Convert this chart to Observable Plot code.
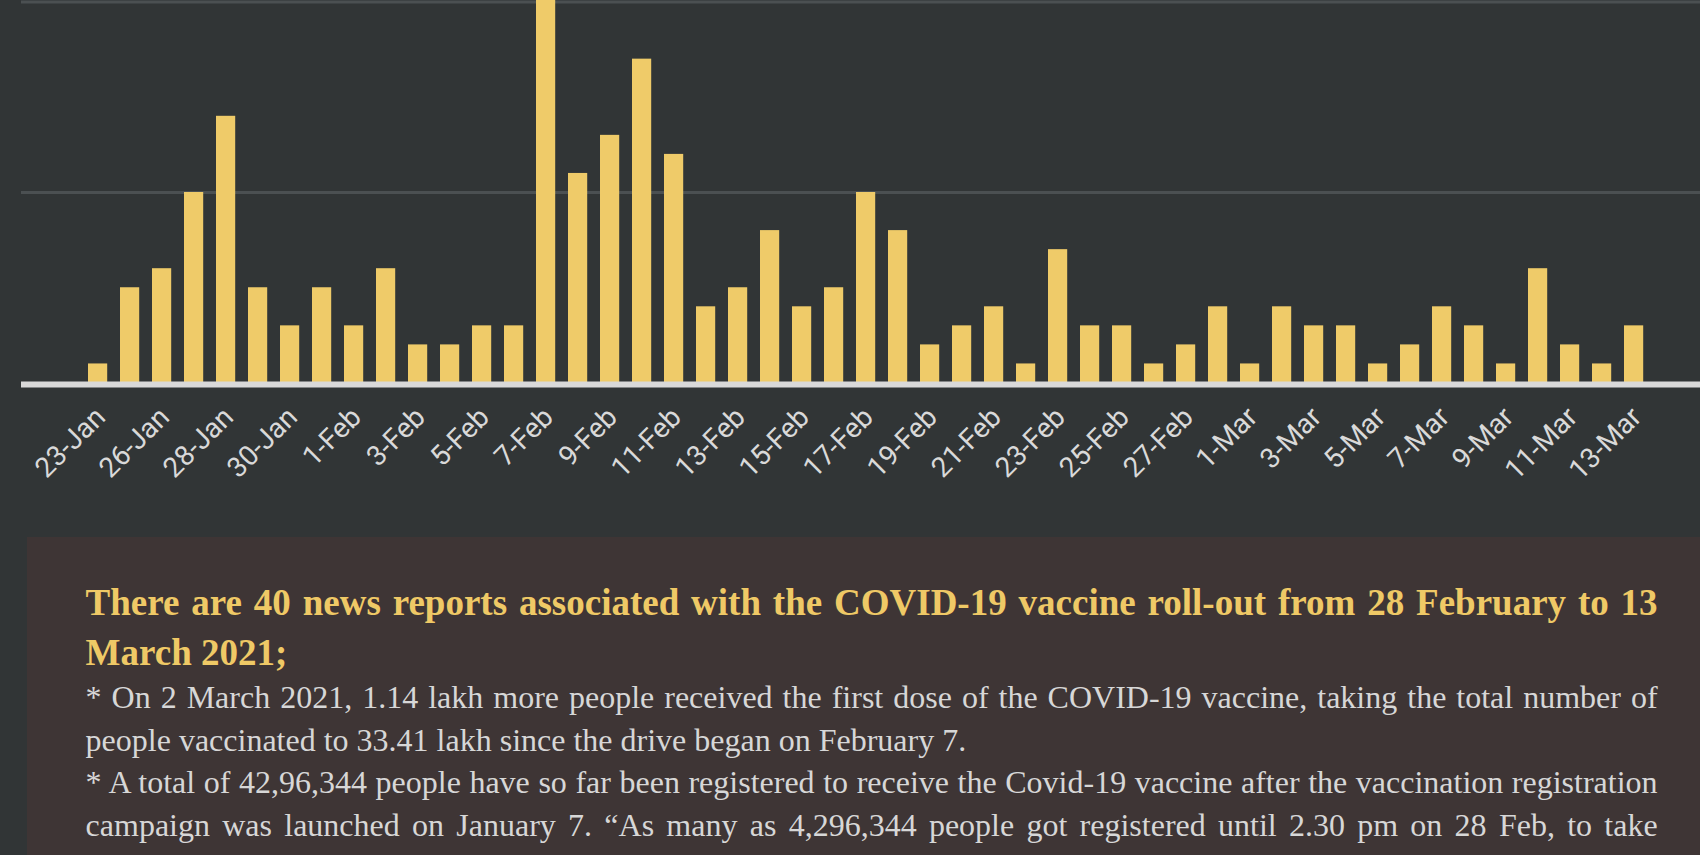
<!DOCTYPE html>
<html><head><meta charset="utf-8">
<script src="https://cdn.jsdelivr.net/npm/d3@7"></script>
<script src="https://cdn.jsdelivr.net/npm/@observablehq/plot@0.6"></script>
<style>
html,body{margin:0;padding:0;width:1700px;height:855px;overflow:hidden;background:#313536;}
#chart{position:absolute;left:0;top:0;}
#panel{position:absolute;left:27px;top:537px;width:1700px;height:400px;background:#3e3535;}
#heading{position:absolute;left:58.6px;top:40.8px;width:1572px;font-family:"Liberation Serif","Times New Roman",serif;font-weight:bold;font-size:37px;line-height:50px;color:#efc966;text-align:justify;}
#body{position:absolute;left:58.6px;top:139px;width:1572px;font-family:"Liberation Serif","Times New Roman",serif;font-size:32px;line-height:42.5px;color:#d7d7d7;text-align:justify;}
.last{text-align-last:justify;}
</style></head>
<body>
<div id="chart"></div>
<div id="panel"><div id="heading"></div><div id="body"><div id="b1"></div><div id="b2" class="last"></div></div></div>
<script>
const dates = ["23-Jan","25-Jan","26-Jan","27-Jan","28-Jan","29-Jan","30-Jan","31-Jan",
  "1-Feb","2-Feb","3-Feb","4-Feb","5-Feb","6-Feb","7-Feb","8-Feb","9-Feb","10-Feb",
  "11-Feb","12-Feb","13-Feb","14-Feb","15-Feb","16-Feb","17-Feb","18-Feb","19-Feb","20-Feb",
  "21-Feb","22-Feb","23-Feb","24-Feb","25-Feb","26-Feb","27-Feb","28-Feb",
  "1-Mar","2-Mar","3-Mar","4-Mar","5-Mar","6-Mar","7-Mar","8-Mar","9-Mar","10-Mar",
  "11-Mar","12-Mar","13-Mar"];
const counts = [1,5,6,10,14,5,3,5,
  3,6,2,2,3,3,21,11,13,17,
  12,4,5,8,4,5,10,8,2,3,
  4,1,7,3,3,1,2,4,
  1,4,3,3,1,2,4,3,1,6,
  2,1,3];
const tickLabels = ["23-Jan","26-Jan","28-Jan","30-Jan","1-Feb","3-Feb","5-Feb","7-Feb","9-Feb",
  "11-Feb","13-Feb","15-Feb","17-Feb","19-Feb","21-Feb","23-Feb","25-Feb","27-Feb",
  "1-Mar","3-Mar","5-Mar","7-Mar","9-Mar","11-Mar","13-Mar"];
const gridValues = [10, 20];
const headingText = "There are 40 news reports associated with the COVID-19 vaccine roll-out from 28 February to 13 March 2021;";
const bullet1 = "* On 2 March 2021, 1.14 lakh more people received the first dose of the COVID-19 vaccine, taking the total number of people vaccinated to 33.41 lakh since the drive began on February 7.";
const bullet2 = "* A total of 42,96,344 people have so far been registered to receive the Covid-19 vaccine after the vaccination registration campaign was launched on January 7. \u201CAs many as 4,296,344 people got registered until 2.30 pm on 28 Feb, to take";

const data = dates.map((d, i) => ({date: d, count: counts[i]}));

const chart = Plot.plot({
  width: 1700, height: 500,
  marginLeft: 21, marginRight: 0, marginTop: 0, marginBottom: 117.5,
  style: {background: "transparent", overflow: "hidden"},
  x: {type: "band", domain: dates, range: [81.6, 1649.6], paddingInner: 0.4, paddingOuter: 0.2, round: false, axis: null},
  y: {domain: [0, 20], range: [382.5, 1.5], axis: null},
  marks: [
    Plot.ruleY(gridValues, {stroke: "#4b5052", strokeWidth: 3}),
    Plot.barY(data, {x: "date", y: "count", fill: "#efcb69", clip: true}),
    Plot.ruleY([0], {stroke: "#d9d9d9", strokeWidth: 6, dy: 1.5}),
    Plot.text(tickLabels, {x: d => d, frameAnchor: "bottom", dx: 2.5, dy: 29.5, rotate: -45,
      textAnchor: "end", lineAnchor: "middle", fontSize: 28,
      fontFamily: "Roboto, 'Liberation Sans', Arial, sans-serif", fill: "#d9d9d9"})
  ]
});
document.getElementById("chart").appendChild(chart);
document.getElementById("heading").textContent = headingText;
document.getElementById("b1").textContent = bullet1;
document.getElementById("b2").textContent = bullet2;
</script>
</body></html>
